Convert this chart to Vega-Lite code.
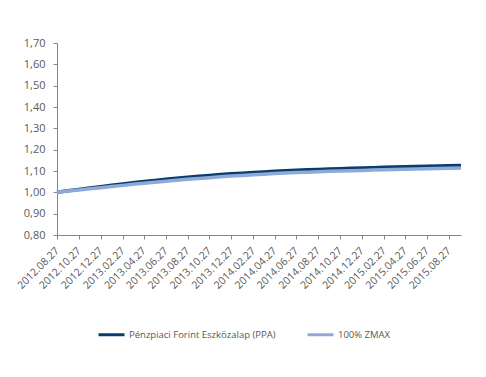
{
"$schema": "https://vega.github.io/schema/vega-lite/v6.json",
"width": 404, "height": 192,
"autosize": {"type": "none"},
"padding": {"left": 57, "top": 43, "right": 25, "bottom": 142},
"background": "white",
"config": {"view": {"stroke": null}, "font": "Open Sans",
  "axis": {"grid": false, "domainColor": "#868686", "tickColor": "#868686", "labelColor": "#595959", "labelFontSize": 11, "tickSize": 4, "title": null, "labelOverlap": false}},
"data": {"values": [
{"date":"2012-08-27","ppa":1.0000,"zmax":1.0000},
{"date":"2012-09-27","ppa":1.0070,"zmax":1.0058},
{"date":"2012-10-27","ppa":1.0138,"zmax":1.0113},
{"date":"2012-11-27","ppa":1.0204,"zmax":1.0167},
{"date":"2012-12-27","ppa":1.0268,"zmax":1.0220},
{"date":"2013-01-27","ppa":1.0330,"zmax":1.0274},
{"date":"2013-02-27","ppa":1.0390,"zmax":1.0326},
{"date":"2013-03-27","ppa":1.0448,"zmax":1.0376},
{"date":"2013-04-27","ppa":1.0504,"zmax":1.0424},
{"date":"2013-05-27","ppa":1.0558,"zmax":1.0473},
{"date":"2013-06-27","ppa":1.0610,"zmax":1.0520},
{"date":"2013-07-27","ppa":1.0660,"zmax":1.0565},
{"date":"2013-08-27","ppa":1.0708,"zmax":1.0608},
{"date":"2013-09-27","ppa":1.0752,"zmax":1.0649},
{"date":"2013-10-27","ppa":1.0793,"zmax":1.0688},
{"date":"2013-11-27","ppa":1.0831,"zmax":1.0726},
{"date":"2013-12-27","ppa":1.0866,"zmax":1.0761},
{"date":"2014-01-27","ppa":1.0899,"zmax":1.0793},
{"date":"2014-02-27","ppa":1.0930,"zmax":1.0823},
{"date":"2014-03-27","ppa":1.0959,"zmax":1.0851},
{"date":"2014-04-27","ppa":1.0986,"zmax":1.0878},
{"date":"2014-05-27","ppa":1.1011,"zmax":1.0902},
{"date":"2014-06-27","ppa":1.1034,"zmax":1.0924},
{"date":"2014-07-27","ppa":1.1055,"zmax":1.0945},
{"date":"2014-08-27","ppa":1.1075,"zmax":1.0965},
{"date":"2014-09-27","ppa":1.1094,"zmax":1.0984},
{"date":"2014-10-27","ppa":1.1110,"zmax":1.0999},
{"date":"2014-11-27","ppa":1.1126,"zmax":1.1015},
{"date":"2014-12-27","ppa":1.1141,"zmax":1.1029},
{"date":"2015-01-27","ppa":1.1156,"zmax":1.1044},
{"date":"2015-02-27","ppa":1.1170,"zmax":1.1057},
{"date":"2015-03-27","ppa":1.1184,"zmax":1.1071},
{"date":"2015-04-27","ppa":1.1197,"zmax":1.1083},
{"date":"2015-05-27","ppa":1.1210,"zmax":1.1096},
{"date":"2015-06-27","ppa":1.1222,"zmax":1.1108},
{"date":"2015-07-27","ppa":1.1234,"zmax":1.1119},
{"date":"2015-08-27","ppa":1.1245,"zmax":1.1130},
{"date":"2015-09-30","ppa":1.1257,"zmax":1.1142}
]},
"encoding": {
  "x": {"field": "date", "type": "temporal",
    "scale": {"type": "utc", "domain": [{"year": 2012, "month": 8, "date": 27, "utc": true}, {"year": 2015, "month": 9, "date": 30, "utc": true}]},
    "axis": {"labelExpr": "utcFormat(datum.value, '%Y.%m.%d')", "labelAngle": -45, "labelAlign": "right", "labelBaseline": "middle", "labelPadding": 10, "labelFontSize": 10.5, "labelOverlap": false,
      "values": [
        {"year": 2012, "month": 8, "date": 27, "utc": true},
        {"year": 2012, "month": 10, "date": 27, "utc": true},
        {"year": 2012, "month": 12, "date": 27, "utc": true},
        {"year": 2013, "month": 2, "date": 27, "utc": true},
        {"year": 2013, "month": 4, "date": 27, "utc": true},
        {"year": 2013, "month": 6, "date": 27, "utc": true},
        {"year": 2013, "month": 8, "date": 27, "utc": true},
        {"year": 2013, "month": 10, "date": 27, "utc": true},
        {"year": 2013, "month": 12, "date": 27, "utc": true},
        {"year": 2014, "month": 2, "date": 27, "utc": true},
        {"year": 2014, "month": 4, "date": 27, "utc": true},
        {"year": 2014, "month": 6, "date": 27, "utc": true},
        {"year": 2014, "month": 8, "date": 27, "utc": true},
        {"year": 2014, "month": 10, "date": 27, "utc": true},
        {"year": 2014, "month": 12, "date": 27, "utc": true},
        {"year": 2015, "month": 2, "date": 27, "utc": true},
        {"year": 2015, "month": 4, "date": 27, "utc": true},
        {"year": 2015, "month": 6, "date": 27, "utc": true},
        {"year": 2015, "month": 8, "date": 27, "utc": true}
      ]}}
},
"layer": [
  {"mark": {"type": "line", "strokeWidth": 3.5},
   "encoding": {
     "y": {"field": "ppa", "type": "quantitative", "scale": {"domain": [0.8, 1.7]},
       "axis": {"values": [0.8, 0.9, 1.0, 1.1, 1.2, 1.3, 1.4, 1.5, 1.6, 1.7], "labelPadding": 8, "labelOverlap": false, "labelExpr": "replace(format(datum.value, '.2f'), '.', ',')"}},
     "color": {"datum": "Pénzpiaci Forint Eszközalap (PPA)",
       "scale": {"domain": ["Pénzpiaci Forint Eszközalap (PPA)", "100% ZMAX"], "range": ["#0a3c6e", "#8eaad8"]},
       "legend": {"orient": "none", "legendX": 40, "legendY": 277, "direction": "horizontal", "title": null,
         "symbolType": "stroke", "symbolStrokeWidth": 3, "symbolSize": 676, "labelFontSize": 9.5, "labelColor": "#595959", "columnPadding": 25, "labelOffset": 3}}
   }},
  {"mark": {"type": "line", "strokeWidth": 3.5},
   "encoding": {
     "y": {"field": "zmax", "type": "quantitative", "scale": {"domain": [0.8, 1.7]},
       "axis": {"values": [0.8, 0.9, 1.0, 1.1, 1.2, 1.3, 1.4, 1.5, 1.6, 1.7], "labelPadding": 8, "labelOverlap": false, "labelExpr": "replace(format(datum.value, '.2f'), '.', ',')"}},
     "color": {"datum": "100% ZMAX"}
   }}
]
}
